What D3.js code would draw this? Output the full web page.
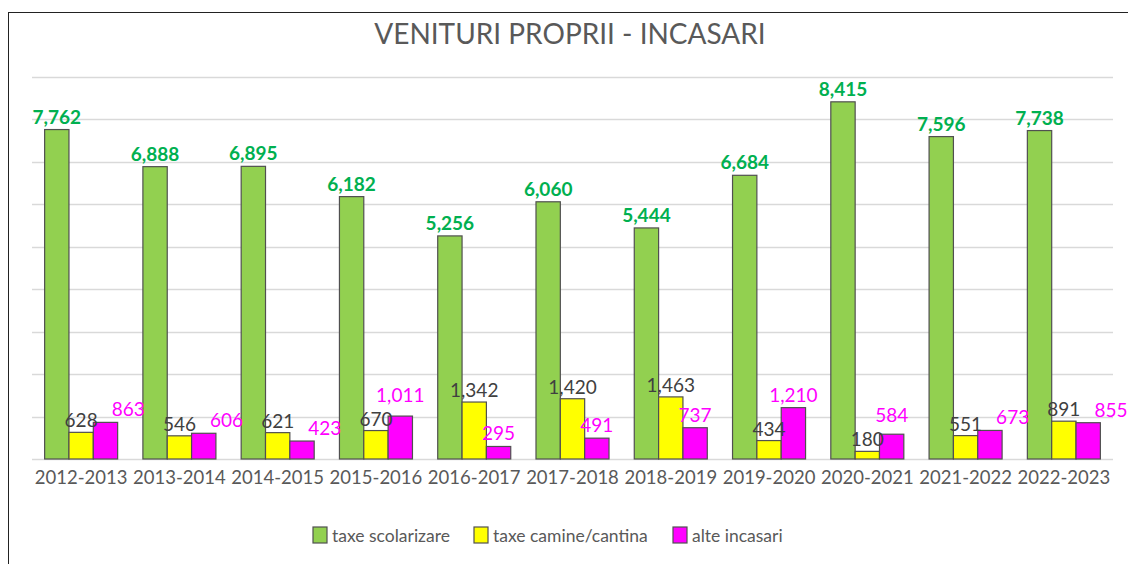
<!DOCTYPE html>
<html>
<head>
<meta charset="utf-8">
<script src="https://cdn.jsdelivr.net/npm/d3@7"></script>
<style>
  html, body { margin: 0; padding: 0; background: #fff; }
  svg { display: block; }
  text { font-family: Lato, "Open Sans", sans-serif; }
</style>
</head>
<body>
<svg id="chart" width="1128" height="564"></svg>
<script>
const title = "VENITURI PROPRII - INCASARI";
const categories = ["2012-2013","2013-2014","2014-2015","2015-2016","2016-2017","2017-2018","2018-2019","2019-2020","2020-2021","2021-2022","2022-2023"];
const seriesNames = ["taxe scolarizare","taxe camine/cantina","alte incasari"];
const taxeScolarizare = [7762, 6888, 6895, 6182, 5256, 6060, 5444, 6684, 8415, 7596, 7738];
const taxeCamine = [628, 546, 621, 670, 1342, 1420, 1463, 434, 180, 551, 891];
const alteIncasari = [863, 606, 423, 1011, 295, 491, 737, 1210, 584, 673, 855];
const yTicks = [0,1000,2000,3000,4000,5000,6000,7000,8000,9000];

const fills = ["#92D050", "#FFFF00", "#FF00FF"];
const labelColors = ["#00B050", "#404040", "#FF00FF"];
const labelWeights = ["bold", "normal", "normal"];
const seriesValues = [taxeScolarizare, taxeCamine, alteIncasari];

const svg = d3.select("#chart");
const plotLeft = 32, plotRight = 1113, plotTop = 77, plotBottom = 459;

// outer border
svg.append("rect").attr("x", 8.5).attr("y", 12.5).attr("width", 1130).attr("height", 570)
  .attr("fill", "#fff").attr("stroke", "#222").attr("stroke-width", 1);

svg.append("text").attr("x", 570).attr("y", 44).attr("text-anchor", "middle")
  .attr("font-size", 28).attr("fill", "#595959").text(title);

const x = d3.scaleBand().domain(categories).range([plotLeft, plotRight])
  .paddingInner(0.257).paddingOuter(0.1285);
const xs = d3.scaleBand().domain(d3.range(3)).range([0, x.bandwidth()]);
const y = d3.scaleLinear().domain([0, 9000]).range([plotBottom, plotTop]);

// gridlines
svg.append("g").selectAll("line").data(yTicks.slice(1)).join("line")
  .attr("x1", plotLeft).attr("x2", plotRight)
  .attr("y1", d => Math.round(y(d)) + 0.5).attr("y2", d => Math.round(y(d)) + 0.5)
  .attr("stroke", "#D9D9D9").attr("stroke-width", 1.3);
svg.append("line").attr("x1", plotLeft).attr("x2", plotRight)
  .attr("y1", plotBottom + 0.5).attr("y2", plotBottom + 0.5).attr("stroke", "#D9D9D9").attr("stroke-width", 1.3);

// bars
const barsG = svg.append("g");
seriesValues.forEach((vals, s) => {
  barsG.append("g").selectAll("rect").data(vals).join("rect")
    .attr("x", (d, i) => x(categories[i]) + xs(s))
    .attr("y", d => y(d))
    .attr("width", xs.bandwidth())
    .attr("height", d => y(0) - y(d))
    .attr("fill", fills[s]).attr("stroke", "#505050").attr("stroke-width", 1.2);
});

// labels
const fmt = d3.format(",");
const labelSel = [];
const labelLift = [6, 5, 6];
seriesValues.forEach((vals, s) => {
  const sel = svg.append("g").selectAll("text").data(vals).join("text")
    .attr("x", (d, i) => x(categories[i]) + xs(s) + xs.bandwidth() / 2)
    .attr("y", d => y(d) - labelLift[s])
    .attr("text-anchor", "middle")
    .attr("font-size", 19)
    .attr("font-weight", labelWeights[s])
    .attr("fill", labelColors[s])
    .text(d => fmt(d));
  labelSel.push(sel);
});
// resolve overlaps between "taxe camine" and "alte incasari" labels
const yNodes = labelSel[1].nodes(), mNodes = labelSel[2].nodes();
mNodes.forEach((m, i) => {
  const a = yNodes[i].getBBox(), b = m.getBBox();
  const overlapY = Math.min(a.y + a.height, b.y + b.height) - Math.max(a.y, b.y);
  const overlapX = a.x + a.width - b.x;
  if (overlapY > 10 && overlapX > 0) {
    d3.select(m).attr("x", +d3.select(m).attr("x") + overlapX + 14);
  } else if (overlapY > 0 && overlapX > 0) {
    // lift the higher label just enough to clear
    if (b.y < a.y) d3.select(m).attr("y", +d3.select(m).attr("y") - overlapY - 1);
    else d3.select(yNodes[i]).attr("y", +d3.select(yNodes[i]).attr("y") - overlapY - 1);
  }
});

// x axis labels
const xAxis = d3.axisBottom(x).tickSize(0).tickPadding(12);
const ax = svg.append("g").attr("transform", `translate(0,${plotBottom})`).call(xAxis);
ax.select(".domain").remove();
ax.selectAll("text").attr("font-size", 18.5).attr("fill", "#595959")
  .attr("font-family", "Lato, 'Open Sans', sans-serif");

// legend
const legendX = [313, 474, 673];
const lg = svg.append("g");
seriesNames.forEach((n, s) => {
  lg.append("rect").attr("x", legendX[s]).attr("y", 527).attr("width", 14).attr("height", 16)
    .attr("fill", fills[s]).attr("stroke", "#505050").attr("stroke-width", 1.2);
  lg.append("text").attr("x", legendX[s] + 19).attr("y", 542)
    .attr("font-size", 17.5).attr("fill", "#595959").text(n);
});
</script>
</body>
</html>
